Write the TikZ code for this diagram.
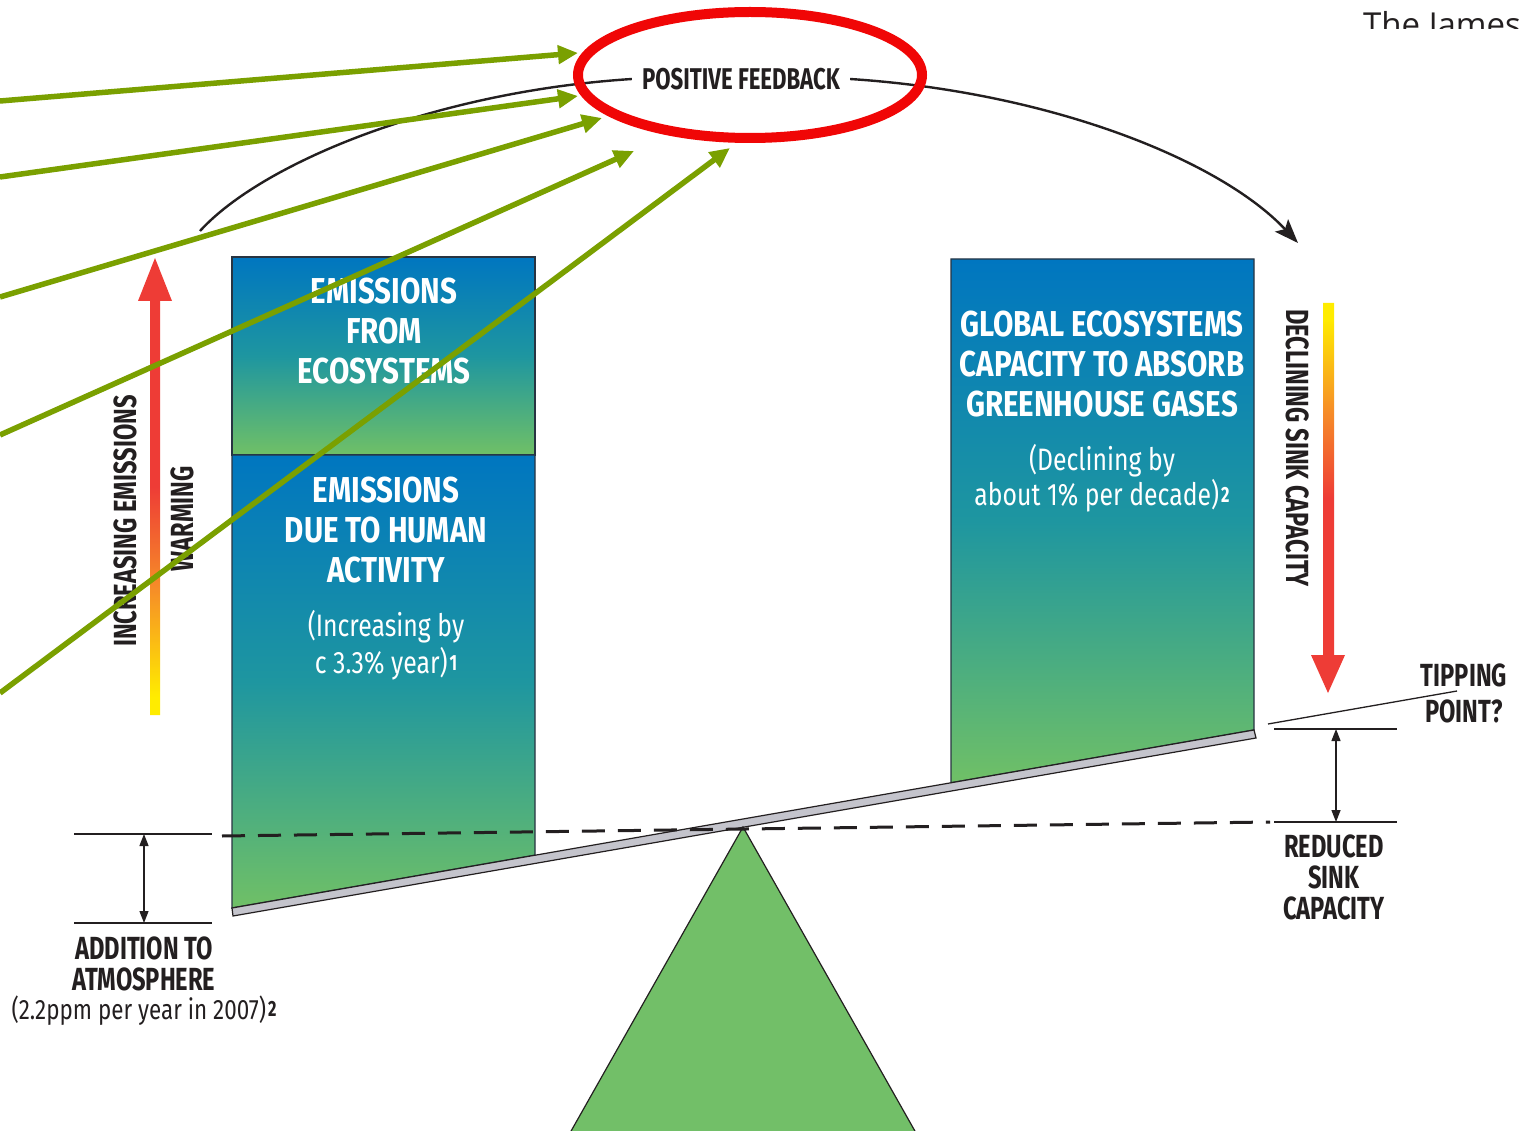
\documentclass[tikz,border=0pt]{standalone}
\usepackage{fontspec}
\setmainfont{Fira Sans}
\newfontfamily\cond[FakeStretch=0.74]{Fira Sans}
\newfontfamily\condw[FakeStretch=0.82]{Fira Sans}
\newfontfamily\condr[FakeStretch=0.80]{Fira Sans}
\newfontfamily\plainsans{Open Sans}
\usetikzlibrary{arrows.meta,shapes.geometric}
\definecolor{boxblue}{RGB}{0,118,192}
\definecolor{boxteal}{RGB}{30,150,160}
\definecolor{boxgreen}{RGB}{112,192,102}
\definecolor{boxedge}{RGB}{40,52,66}
\definecolor{leafgreen}{RGB}{122,160,0}
\definecolor{arrred}{RGB}{238,60,54}
\definecolor{arrorange}{RGB}{246,140,40}
\definecolor{arryellow}{RGB}{255,236,0}
\definecolor{feedred}{RGB}{240,6,6}
\definecolor{beamgray}{RGB}{196,196,204}
\definecolor{trigreen}{RGB}{114,191,104}
\definecolor{inkdark}{RGB}{35,31,32}
\pgfdeclareverticalshading{warmup}{100bp}{color(0bp)=(arryellow); color(27bp)=(arryellow); color(39bp)=(arrorange); color(50bp)=(arrred); color(100bp)=(arrred)}
\newcommand{\notemark}[1]{\kern2pt\raisebox{3pt}{\cond\bfseries\fontsize{22}{22}\selectfont #1}}
\begin{document}
\begin{tikzpicture}[x=1pt,y=-1pt,
  boxpart/.style={draw=boxedge,line width=1.4pt,top color=boxblue,bottom color=boxgreen,middle color=boxteal},
  boxhead/.style={font=\condw\bfseries\fontsize{36}{40}\selectfont,text=white,align=center,inner sep=0pt},
  boxnote/.style={font=\condr\fontsize{31}{37}\selectfont,text=white,align=center,inner sep=0pt},
  sidelabel/.style={font=\cond\bfseries\fontsize{32}{31}\selectfont,text=inkdark,align=center,inner sep=0pt},
  dimline/.style={line width=1.3pt,draw=inkdark},
  dimarrow/.style={line width=1.3pt,draw=inkdark,{Triangle[length=12pt,width=9pt]}-{Triangle[length=12pt,width=9pt]}},
  feedarrow/.style={draw=leafgreen,line width=5.5pt,-{Triangle[length=20pt,width=18pt]}},
  loopline/.style={draw=inkdark,line width=2.4pt}]
\useasboundingbox (0,0) rectangle (1532,1131);
\fill[white] (0,0) rectangle (1532,1131);

% boxes
\path[boxpart] (232,257) -- (535,257) -- (535,455) -- (232,455) -- cycle;
\path[boxpart] (232,455) -- (535,455) -- (535,855.2) -- (232,908) -- cycle;
\path[boxpart] (951,259) -- (1254,259) -- (1254,730) -- (951,782.8) -- cycle;

% beam and pivot
\draw[fill=beamgray,draw=inkdark,line width=1.2pt] (232,908) -- (1254,730) -- (1256,738) -- (233,916) -- cycle;
\draw[fill=trigreen,draw=inkdark,line width=1.2pt] (743,827) -- (920,1140) -- (566,1140) -- cycle;

% dashed reference line
\coordinate (dashL) at (222,836);
\coordinate (dashR) at (1270,822);
\draw[inkdark,line width=3pt,dash pattern=on 23pt off 13pt] (dashL) -- (dashR);

% left dimension
\coordinate (addTopL) at (74,834); \coordinate (addTopR) at (212,834);
\coordinate (addBotL) at (74,923); \coordinate (addBotR) at (212,923);
\draw[dimline] (addTopL) -- (addTopR);
\draw[dimline] (addBotL) -- (addBotR);
\coordinate (addA) at (144,834); \coordinate (addB) at (144,923);
\draw[dimarrow] (addA) -- (addB);
\node[sidelabel] (addlab) at (144,964) {ADDITION TO\\ATMOSPHERE};
\node[font=\condr\fontsize{28}{31}\selectfont,text=inkdark,inner sep=0pt] (addnote) at (144,1011) {(2.2ppm per year in 2007)\notemark{2}};

% right dimension
\coordinate (redTopL) at (1274,729); \coordinate (redTopR) at (1397,729);
\coordinate (redBotL) at (1274,822); \coordinate (redBotR) at (1397,822);
\draw[dimline] (redTopL) -- (redTopR);
\draw[dimline] (redBotL) -- (redBotR);
\coordinate (redA) at (1336,729); \coordinate (redB) at (1336,822);
\draw[dimarrow] (redA) -- (redB);
\node[sidelabel] (redlab) at (1334,877) {REDUCED\\SINK\\CAPACITY};

% tipping point
\coordinate (tipA) at (1268,724);
\coordinate (tipB) at (1457,691);
\draw[dimline] (tipA) -- (tipB);
\node[sidelabel,font=\cond\bfseries\fontsize{32}{36}\selectfont] (tiplab) at (1464,693) {TIPPING\\POINT?};

% warming arrows
\path[shading=warmup] (150,715) -- (160,715) -- (160,301) -- (172,301) -- (155,258) -- (138,301) -- (150,301) -- cycle;
\path[shading=warmup,shading angle=180] (1323,303) -- (1334,303) -- (1334,655) -- (1345,655) -- (1328,693) -- (1311,655) -- (1323,655) -- cycle;
\node[sidelabel,rotate=90] (incem) at (125,521) {INCREASING EMISSIONS};
\node[sidelabel,rotate=90] (warm) at (182,519) {WARMING};
\node[sidelabel,rotate=-90] (decl) at (1298,448) {DECLINING SINK CAPACITY};

% box texts
\node[boxhead] (ecoem) at (384,331) {EMISSIONS\\FROM\\ECOSYSTEMS};
\node[boxhead] (humem) at (386,530) {EMISSIONS\\DUE TO HUMAN\\ACTIVITY};
\node[boxnote] (humnote) at (386,645) {(Increasing by\\c 3.3\% year)\notemark{1}};
\node[boxhead] (sink) at (1102,364) {GLOBAL ECOSYSTEMS\\CAPACITY TO ABSORB\\GREENHOUSE GASES};
\node[boxnote,font=\condr\fontsize{31}{35}\selectfont] (sinknote) at (1102,478) {(Declining by\\about 1\% per decade)\notemark{2}};

% positive feedback loop
\node[font=\cond\bfseries\fontsize{30}{30}\selectfont,text=inkdark,inner xsep=10pt,inner ysep=0pt] (pf) at (741,79) {POSITIVE FEEDBACK};
\coordinate (loopStart) at (200,231);
\coordinate (loopEnd) at (1298,243);
\draw[loopline] (loopStart) .. controls (260,165) and (430,92) .. (pf.west);
\draw[loopline,-{Stealth[length=24pt,width=18pt,inset=5pt]}] (pf.east) .. controls (1050,92) and (1220,160) .. (loopEnd);
\node[ellipse,draw=feedred,line width=10pt,minimum width=344pt,minimum height=126pt,inner sep=0pt] (ring) at (750,75) {};

% green pointers
\coordinate (g1s) at (0,101); \coordinate (g1e) at (578,53);
\coordinate (g2s) at (0,177); \coordinate (g2e) at (578,96);
\coordinate (g3s) at (0,297); \coordinate (g3e) at (602,118);
\coordinate (g4s) at (0,435); \coordinate (g4e) at (634,151);
\coordinate (g5s) at (0,693); \coordinate (g5e) at (730,148);
\draw[feedarrow] (g1s) -- (g1e);
\draw[feedarrow] (g2s) -- (g2e);
\draw[feedarrow] (g3s) -- (g3e);
\draw[feedarrow] (g4s) -- (g4e);
\draw[feedarrow] (g5s) -- (g5e);

% cropped heading
\begin{scope}
\clip (1300,0) rectangle (1532,29);
\node[font=\plainsans\fontsize{33}{33}\selectfont,text=inkdark,anchor=base west,inner sep=0pt] (james) at (1363,37) {The James};
\end{scope}
\end{tikzpicture}
\end{document}
